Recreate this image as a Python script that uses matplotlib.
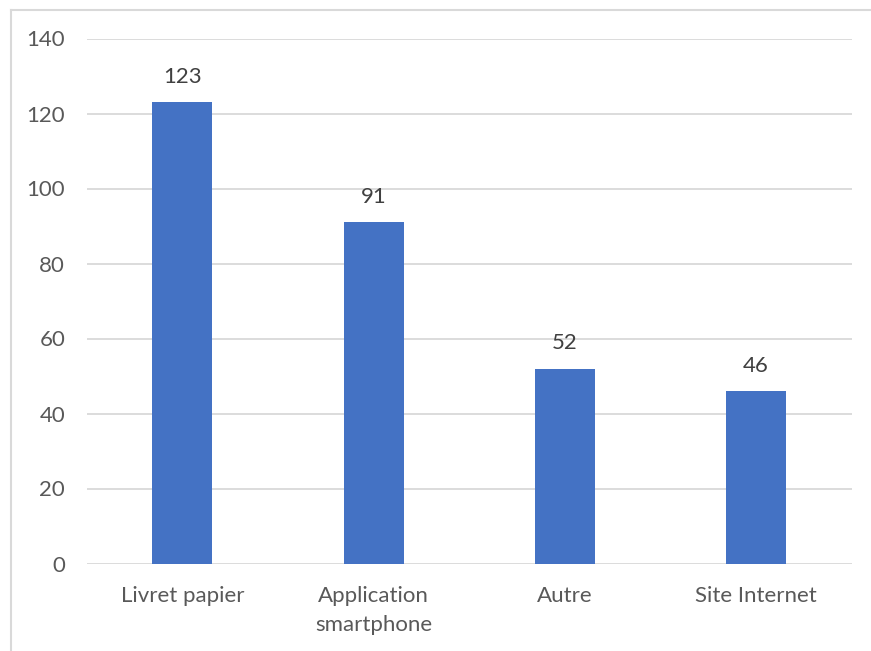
import matplotlib
matplotlib.use("Agg")
import matplotlib.pyplot as plt
from matplotlib.lines import Line2D

categories = ["Livret papier", "Application\nsmartphone", "Autre", "Site Internet"]
values = [123, 91, 52, 46]
yticks = [0, 20, 40, 60, 80, 100, 120, 140]

BAR = "#4472C4"
GRID = "#D9D9D9"
TXT = "#595959"

plt.rcParams["font.family"] = ["Lato", "DejaVu Sans"]

W, H = 871, 651
fig = plt.figure(figsize=(W / 100, H / 100), dpi=100)
ax = fig.add_axes([86.7 / W, 1 - 563.5 / H, 765 / W, 525 / H])

x = list(range(len(categories)))
bars = ax.bar(x, values, width=0.314, color=BAR, zorder=3)

ax.set_xlim(-0.5, len(categories) - 0.5)
ax.set_ylim(0, 140)
ax.set_yticks(yticks)
ax.set_xticks(x)
ax.set_xticklabels(categories, linespacing=1.55)
ax.yaxis.grid(True, color=GRID, linewidth=1.3, zorder=0)
ax.set_axisbelow(True)
for s in ax.spines.values():
    s.set_visible(False)
ax.tick_params(axis="y", length=0, pad=15.5, labelsize=16, labelcolor=TXT)
ax.tick_params(axis="x", length=0, pad=16, labelsize=16, labelcolor=TXT)

for b, v in zip(bars, values):
    ax.annotate(str(v), (b.get_x() + b.get_width() / 2, v), xytext=(0, 11),
                textcoords="offset points", ha="center", va="bottom",
                fontsize=16, color="#404040")

# light frame around the chart area (Excel style)
fig.add_artist(Line2D([10.5 / W, 1], [1 - 9.5 / H, 1 - 9.5 / H], color=GRID, lw=1.5,
                      transform=fig.transFigure))
fig.add_artist(Line2D([10.5 / W, 10.5 / W], [0, 1 - 9.5 / H], color=GRID, lw=1.5,
                      transform=fig.transFigure))

fig.savefig("out.png", dpi=100)
